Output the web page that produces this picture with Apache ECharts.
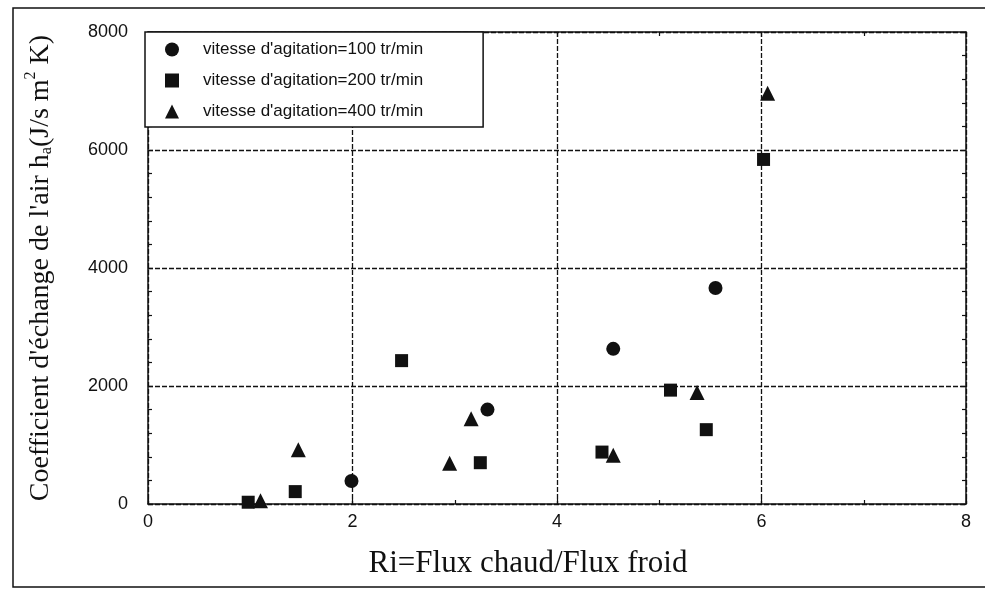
<!DOCTYPE html>
<html>
<head>
<meta charset="utf-8">
<script src="https://cdn.jsdelivr.net/npm/echarts@6/dist/echarts.min.js"></script>
<style>html,body{margin:0;padding:0;background:#fff;}#c{width:985px;height:590px;}</style>
</head>
<body>
<div id="c"></div>
<script>
var seriesNames = ['vitesse d\'agitation=100 tr/min', 'vitesse d\'agitation=200 tr/min', 'vitesse d\'agitation=400 tr/min'];
var data100 = [[1.99, 390], [3.32, 1600], [4.55, 2630], [5.55, 3660]];
var data200 = [[0.98, 30], [1.44, 210], [2.48, 2430], [3.25, 700], [4.44, 880], [5.11, 1930], [5.46, 1260], [6.02, 5840]];
var data400 = [[1.10, 55], [1.47, 920], [2.95, 690], [3.16, 1445], [4.55, 825], [5.37, 1890], [6.06, 6960]];
var xTicks = [0, 2, 4, 6, 8];
var yTicks = [0, 2000, 4000, 6000, 8000];

var chart = echarts.init(document.getElementById('c'), null, {renderer: 'canvas'});
var black = '#111';
function baseAxis(extra) {
  var a = {
    axisLine: {show: true, onZero: false, lineStyle: {color: black, width: 1.5}},
    axisTick: {show: true, inside: true, length: 5, lineStyle: {color: black, width: 1.2}},
    minorTick: {show: true, length: 4, lineStyle: {color: black, width: 1.2}},
    splitLine: {show: false},
    axisLabel: {show: false}
  };
  for (var k in extra) a[k] = extra[k];
  return a;
}
var option = {
  backgroundColor: '#fff',
  animation: false,
  grid: {left: 148, right: 19, top: 32, bottom: 86, show: false},
  graphic: [{
    type: 'polyline',
    shape: {points: [[990, 8], [13, 8], [13, 587], [990, 587]]},
    style: {stroke: black, lineWidth: 1.5, fill: null},
    silent: true
  }],
  legend: {
    orient: 'vertical',
    left: 145, top: 32,
    padding: [9, 60, 7, 20],
    itemWidth: 14, itemHeight: 14, itemGap: 14,
    backgroundColor: '#fff',
    borderColor: black, borderWidth: 1.5,
    textStyle: {color: black, fontFamily: 'Liberation Sans', fontSize: 17, padding: [0, 0, 0, 19]},
    data: seriesNames,
    z: 10
  },
  xAxis: [
    baseAxis({
      type: 'value', position: 'bottom', min: 0, max: 8, interval: 2,
      minorTick: {show: true, splitNumber: 2, length: 4, lineStyle: {color: black, width: 1.2}},
      splitLine: {show: true, lineStyle: {color: black, width: 1.3, type: [5, 2]}},
      axisLabel: {show: true, margin: 9, formatter: function (v) { return xTicks.indexOf(v) >= 0 ? String(v) : ''; }, fontFamily: 'Liberation Sans', fontSize: 18, color: black},
      name: 'Ri=Flux chaud/Flux froid',
      nameLocation: 'middle', nameGap: 44,
      nameTextStyle: {fontFamily: 'Liberation Serif', fontSize: 31, color: black, padding: [0, 58, 0, 0]}
    }),
    baseAxis({
      type: 'value', position: 'top', min: 0, max: 8, interval: 2,
      minorTick: {show: true, splitNumber: 2, length: 4, lineStyle: {color: black, width: 1.2}}
    })
  ],
  yAxis: [
    baseAxis({
      type: 'value', position: 'left', min: 0, max: 8000, interval: 2000,
      minorTick: {show: true, splitNumber: 5, length: 4, lineStyle: {color: black, width: 1.2}},
      splitLine: {show: true, lineStyle: {color: black, width: 1.3, type: [5, 2]}},
      axisLabel: {show: true, margin: 20, formatter: function (v) { return yTicks.indexOf(v) >= 0 ? String(v) : ''; }, fontFamily: 'Liberation Sans', fontSize: 18, color: black},
      name: '{m|Coefficient d\'échange de l\'air h}{sub|a}{m|(J/s m}{sup|2}{m| K)}',
      nameLocation: 'middle', nameGap: 87, nameRotate: 90,
      nameTextStyle: {
        fontFamily: 'Liberation Serif', fontSize: 28, color: black,
        rich: {
          m: {fontFamily: 'Liberation Serif', fontSize: 28, color: black, lineHeight: 40, verticalAlign: 'middle'},
          sub: {fontFamily: 'Liberation Serif', fontSize: 16, color: black, lineHeight: 40, verticalAlign: 'bottom', padding: [0, 0, 6, 0]},
          sup: {fontFamily: 'Liberation Serif', fontSize: 16, color: black, lineHeight: 40, verticalAlign: 'top', padding: [2, 0, 0, 0]}
        }
      }
    }),
    baseAxis({
      type: 'value', position: 'right', min: 0, max: 8000, interval: 2000,
      minorTick: {show: true, splitNumber: 5, length: 4, lineStyle: {color: black, width: 1.2}}
    })
  ],
  series: [
    {name: seriesNames[0], type: 'scatter', symbol: 'circle', symbolSize: 14, data: data100, itemStyle: {color: black, opacity: 1}, z: 3},
    {name: seriesNames[1], type: 'scatter', symbol: 'rect', symbolSize: 13, data: data200, itemStyle: {color: black, opacity: 1}, z: 3},
    {name: seriesNames[2], type: 'scatter', symbol: 'triangle', symbolSize: 15, data: data400, itemStyle: {color: black, opacity: 1}, z: 3}
  ]
};
chart.setOption(option);
</script>
</body>
</html>
